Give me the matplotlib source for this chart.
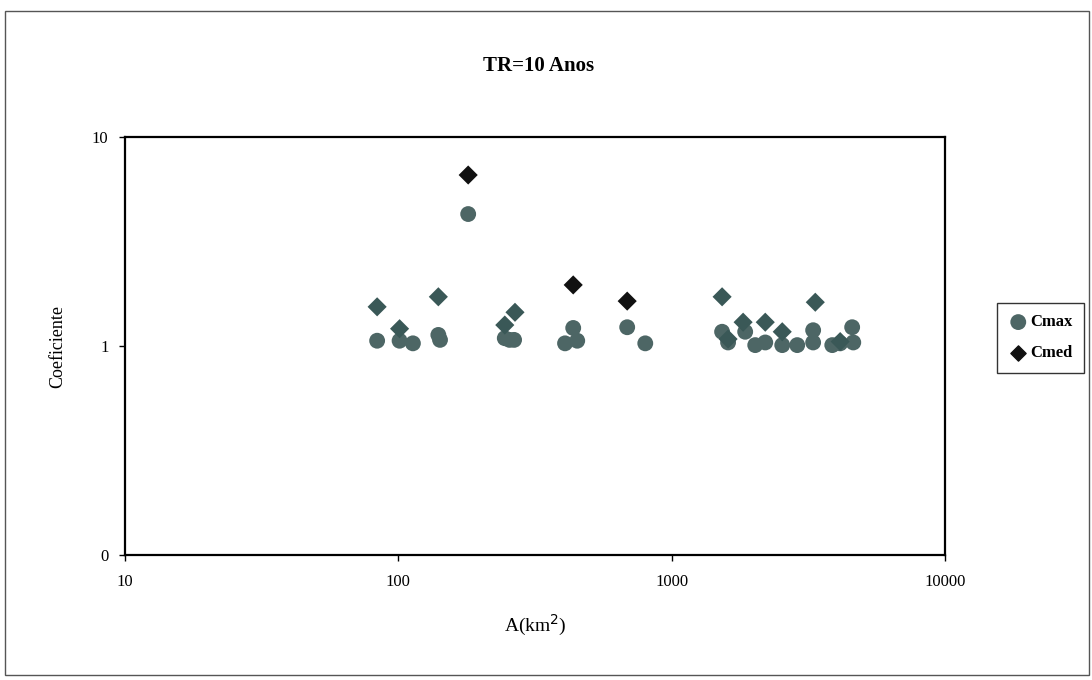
import matplotlib.pyplot as plt
from matplotlib.patches import Rectangle
from matplotlib.ticker import FixedLocator, FixedFormatter, NullLocator

# Cmax (circles)
area_max = [83.6, 101, 113, 140, 142, 180, 245, 255, 265, 407, 436, 451, 687, 800,
            1528, 1607, 1856, 2020, 2198, 2536, 2877, 3290, 3290, 3865, 4131, 4570, 4613]
cmax = [1.06, 1.06, 1.03, 1.13, 1.07, 4.28, 1.09, 1.07, 1.07, 1.03, 1.22, 1.06, 1.23, 1.03,
        1.17, 1.04, 1.17, 1.01, 1.04, 1.01, 1.01, 1.19, 1.04, 1.01, 1.03, 1.23, 1.04]

# Cmed (diamonds)
area_med = [83.6, 101, 140, 180, 245, 267, 436, 687, 1528, 1824, 2198, 2536, 3350, 1607, 4131]
cmed = [1.54, 1.21, 1.72, 6.58, 1.26, 1.45, 1.96, 1.64, 1.72, 1.30, 1.30, 1.17, 1.62, 1.08, 1.05]
# scan shows most low diamonds greyish, only the three highest ones dark
cmed_dark = [False, False, False, True, False, False, True, True, False, False, False, False,
             False, False, False]

grey = '#4d6665'
teal_dark = '#3a5857'
black = '#111111'

plt.rcParams['font.family'] = ['Liberation Serif', 'DejaVu Serif']

fig = plt.figure(figsize=(10.92, 6.8), dpi=100)
ax = fig.add_axes([0.1145, 0.1838, 0.751, 0.6147])

# outer frame of the chart area
fig.patches.append(Rectangle((0.005, 0.008), 0.992, 0.976, transform=fig.transFigure,
                             fill=False, edgecolor='#555555', linewidth=1.0))

med_colors = [black if d else teal_dark for d in cmed_dark]

ax.scatter(area_max, cmax, s=130, marker='o', color=grey, edgecolors='none',
           label='Cmax', zorder=3)
ax.scatter(area_med, cmed, s=95, marker='D', c=med_colors, edgecolors='none', zorder=4)
# legend proxy for Cmed
ax.scatter([], [], s=60, marker='D', color=black, label='Cmed')

ax.set_xscale('log')
ax.set_yscale('log')
ax.set_xlim(10, 10000)
ax.set_ylim(0.1, 10)

ax.xaxis.set_major_locator(FixedLocator([10, 100, 1000, 10000]))
ax.xaxis.set_major_formatter(FixedFormatter(['10', '100', '1000', '10000']))
ax.xaxis.set_minor_locator(NullLocator())
ax.yaxis.set_major_locator(FixedLocator([0.1, 1, 10]))
ax.yaxis.set_major_formatter(FixedFormatter(['0', '1', '10']))
ax.yaxis.set_minor_locator(NullLocator())

ax.tick_params(axis='both', direction='out', length=4, width=1, labelsize=12, pad=10)
ax.tick_params(axis='y', pad=8)
for sp in ax.spines.values():
    sp.set_linewidth(1.6)

ax.set_xlabel('A(km$^2$)', fontsize=14, labelpad=16)
ax.set_ylabel('Coeficiente', fontsize=13, labelpad=18)
fig.text(0.493, 0.903, 'TR=10 Anos', ha='center', va='center', fontsize=15, fontweight='bold')

ax.legend(loc='center left', bbox_to_anchor=(0.905, 0.503), bbox_transform=fig.transFigure,
          frameon=True, fancybox=False, edgecolor='black',
          prop={'weight': 'bold', 'size': 12}, handletextpad=0.1, borderpad=0.7,
          labelspacing=0.9, handlelength=1.2)

fig.savefig('out.png', dpi=100)
